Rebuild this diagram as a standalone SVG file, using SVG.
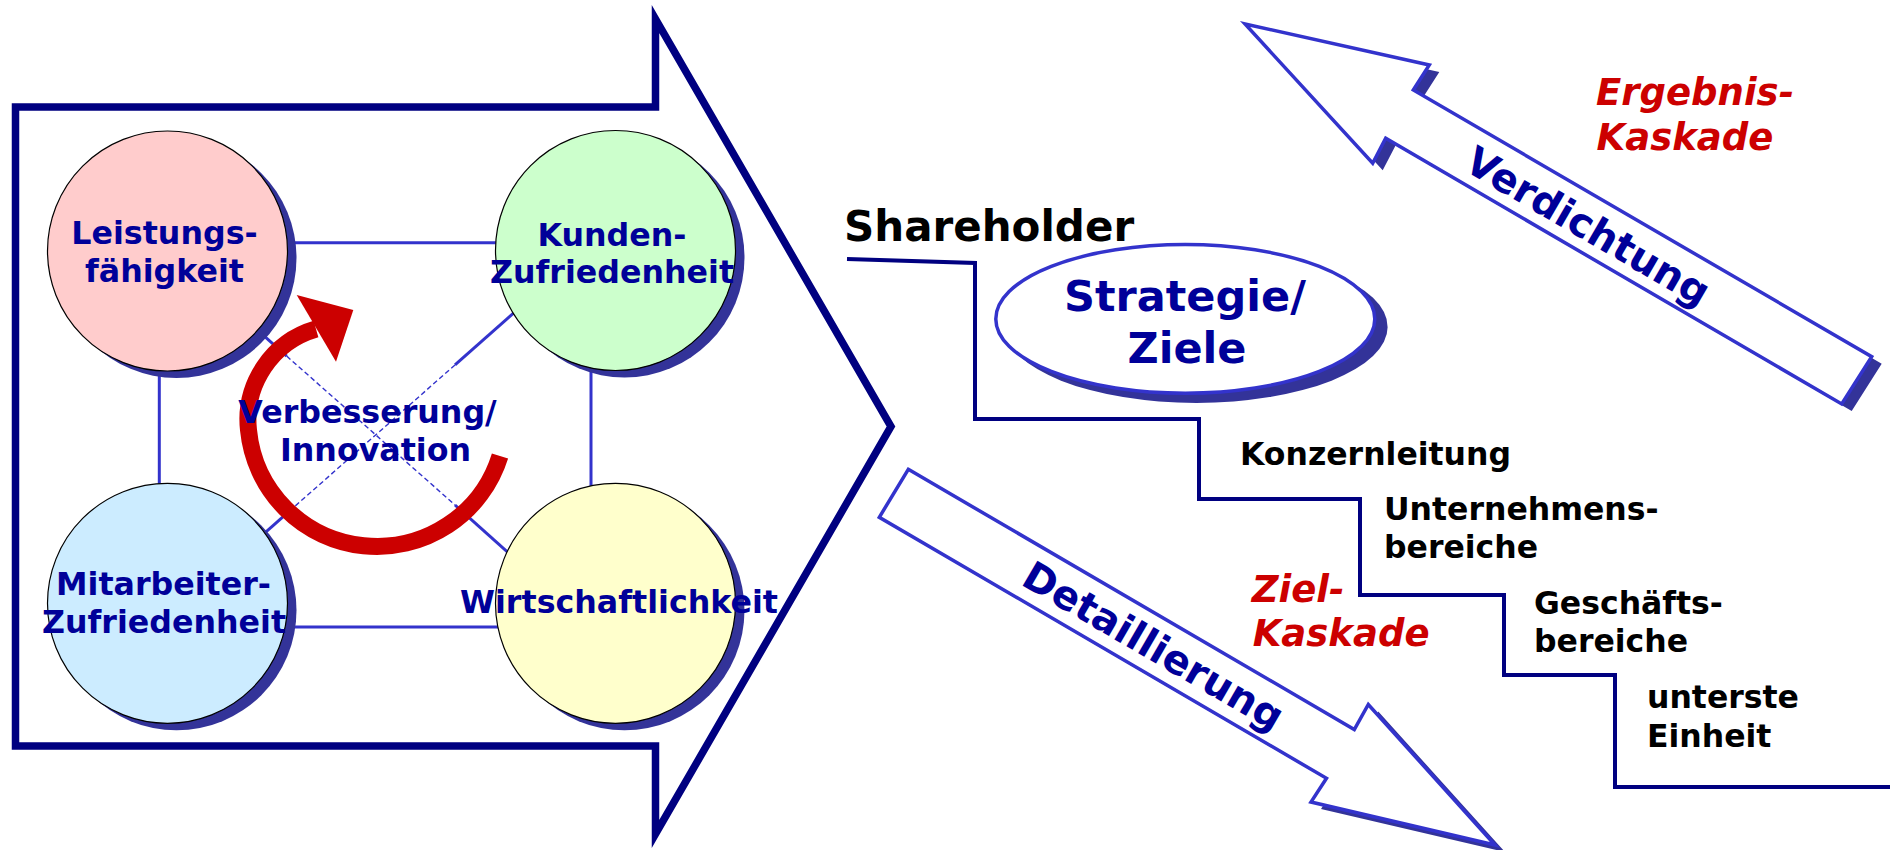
<svg xmlns="http://www.w3.org/2000/svg" width="1890" height="850" viewBox="0 0 1890 850">
  <style>
    .t { font-family: "DejaVu Sans", Verdana, sans-serif; font-weight: bold; }
    .node { fill: #000099; font-size: 31.7px; text-anchor: middle; }
    .lvl { fill: #000000; font-size: 31.5px; }
    .kas { fill: #CC0000; font-size: 37px; font-style: italic; }
    .band { fill: #000099; font-size: 40px; text-anchor: middle; }
    .link { stroke: #3333CC; stroke-width: 3; fill: none; }
    .faint { stroke: #3333CC; stroke-width: 1.4; stroke-dasharray: 5 3; fill: none; }
    .shadow { fill: #333399; }
    .disc { stroke: #000000; stroke-width: 1.2; }
    .flow { fill: #FFFFFF; stroke: #3333CC; stroke-width: 3.5; stroke-linejoin: miter; }
  </style>

  <rect width="1890" height="850" fill="#FFFFFF"/>

  <!-- large outline arrow framing the four success factors -->
  <g id="frame-arrow">
    <polygon points="15.5,107 655.5,107 655.5,19 891,426.5 655.5,834 655.5,746 15.5,746"
             fill="none" stroke="#000080" stroke-width="7.5" stroke-miterlimit="10"/>
  </g>

  <!-- links between the four circles -->
  <g id="connectors">
    <line class="link" x1="250" y1="242.7" x2="540" y2="242.7"/>
    <line class="link" x1="250" y1="627" x2="540" y2="627"/>
    <line class="link" x1="159.3" y1="330" x2="159.3" y2="520"/>
    <line class="link" x1="591" y1="330" x2="591" y2="520"/>
    <!-- diagonal Leistungsfaehigkeit - Wirtschaftlichkeit -->
    <line class="link" x1="220" y1="296.8" x2="286.7" y2="356.1"/>
    <line class="faint" x1="286.7" y1="356.1" x2="455" y2="505"/>
    <line class="link" x1="455" y1="505" x2="540" y2="581"/>
    <!-- diagonal Kunden - Mitarbeiter -->
    <line class="link" x1="560" y1="272" x2="455" y2="364.9"/>
    <line class="faint" x1="455" y1="364.9" x2="293.3" y2="507.7"/>
    <line class="link" x1="293.3" y1="507.7" x2="230" y2="563.9"/>
  </g>

  <!-- improvement cycle -->
  <g id="cycle-arrow">
    <path d="M 500 456 A 129 129 0 0 1 248.5 430 A 94.5 94.5 0 0 1 316 329"
          fill="none" stroke="#CC0000" stroke-width="17" stroke-linecap="butt"/>
    <polygon points="296.7,295 353.3,310 336,361.7" fill="#CC0000"/>
  </g>

  <g id="node-leistung">
    <circle class="shadow" cx="176.5" cy="258" r="120"/>
    <circle class="disc" cx="167.5" cy="251" r="120" fill="#FFCCCC"/>
    <text class="t node" x="164.5" y="244">Leistungs-</text>
    <text class="t node" x="164.5" y="281.7">fähigkeit</text>
  </g>

  <g id="node-kunden">
    <circle class="shadow" cx="624.5" cy="257.5" r="120"/>
    <circle class="disc" cx="615.5" cy="250.5" r="120" fill="#CCFFCC"/>
    <text class="t node" x="612" y="245.6">Kunden-</text>
    <text class="t node" x="612" y="282.5">Zufriedenheit</text>
  </g>

  <g id="node-mitarbeiter">
    <circle class="shadow" cx="176.5" cy="610.3" r="120"/>
    <circle class="disc" cx="167.5" cy="603.3" r="120" fill="#CCECFF"/>
    <text class="t node" x="163.5" y="595">Mitarbeiter-</text>
    <text class="t node" x="164" y="633">Zufriedenheit</text>
  </g>

  <g id="node-wirtschaft">
    <circle class="shadow" cx="624.5" cy="610.3" r="120"/>
    <circle class="disc" cx="615.5" cy="603.3" r="120" fill="#FFFFCC"/>
    <text class="t node" x="619" y="612.6">Wirtschaftlichkeit</text>
  </g>

  <g id="label-innovation">
    <text class="t node" x="367.5" y="423.3">Verbesserung/</text>
    <text class="t node" x="375.5" y="461">Innovation</text>
  </g>

  <!-- goal cascade steps -->
  <g id="cascade-steps">
    <polyline points="847,259 975,263 975,419 1199,419 1199,499 1360,499 1360,595 1504,595 1504,675 1615,675 1615,787 1890,787"
              fill="none" stroke="#000080" stroke-width="4" stroke-linejoin="miter"/>
  </g>

  <g id="node-shareholder">
    <text class="t" x="844" y="240.5" font-size="42" fill="#000000">Shareholder</text>
  </g>

  <g id="node-strategie">
    <ellipse class="shadow" cx="1196.3" cy="326.9" rx="191.3" ry="76"/>
    <ellipse cx="1185.3" cy="318.9" rx="189.5" ry="74.3" fill="#FFFFFF" stroke="#3333CC" stroke-width="3.5"/>
    <text class="t" x="1185" y="311" font-size="43" fill="#000099" text-anchor="middle">Strategie/</text>
    <text class="t" x="1187" y="362.7" font-size="43" fill="#000099" text-anchor="middle">Ziele</text>
  </g>

  <g id="node-konzernleitung">
    <text class="t lvl" x="1240" y="465">Konzernleitung</text>
  </g>
  <g id="node-unternehmensbereiche">
    <text class="t lvl" x="1384" y="520">Unternehmens-</text>
    <text class="t lvl" x="1384" y="557.7">bereiche</text>
  </g>
  <g id="node-geschaeftsbereiche">
    <text class="t lvl" x="1534" y="614">Geschäfts-</text>
    <text class="t lvl" x="1534" y="652">bereiche</text>
  </g>
  <g id="node-einheit">
    <text class="t lvl" x="1647" y="708.3">unterste</text>
    <text class="t lvl" x="1647" y="747.3">Einheit</text>
  </g>

  <!-- upward band: results roll up -->
  <g id="arrow-verdichtung">
    <polygon class="shadow" transform="translate(10,7)"
             points="1245,24 1429.3,65 1413.3,90 1871.7,356.7 1841.7,404 1385.7,138.3 1372.7,163.3"/>
    <polygon class="flow"
             points="1245,24 1429.3,65 1413.3,90 1871.7,356.7 1841.7,404 1385.7,138.3 1372.7,163.3"/>
    <text class="t band" transform="translate(1589,224.5) rotate(30.2)" x="0" y="16">Verdichtung</text>
  </g>

  <!-- downward band: goals broken down -->
  <g id="arrow-detaillierung">
    <polygon class="shadow" transform="translate(10,7)"
             points="908.3,469.3 1354.3,729.5 1368.3,704.5 1495,845 1311,802 1326.5,778.3 879.3,517.3"/>
    <polygon class="flow"
             points="908.3,469.3 1354.3,729.5 1368.3,704.5 1495,845 1311,802 1326.5,778.3 879.3,517.3"/>
    <text class="t band" transform="translate(1154,645) rotate(30.2)" x="0" y="15">Detaillierung</text>
  </g>

  <g id="label-ergebnis">
    <text class="t kas" x="1596" y="105">Ergebnis-</text>
    <text class="t kas" x="1596.5" y="150">Kaskade</text>
  </g>
  <g id="label-ziel">
    <text class="t kas" x="1251.7" y="602.3">Ziel-</text>
    <text class="t kas" x="1252.7" y="646">Kaskade</text>
  </g>
</svg>
